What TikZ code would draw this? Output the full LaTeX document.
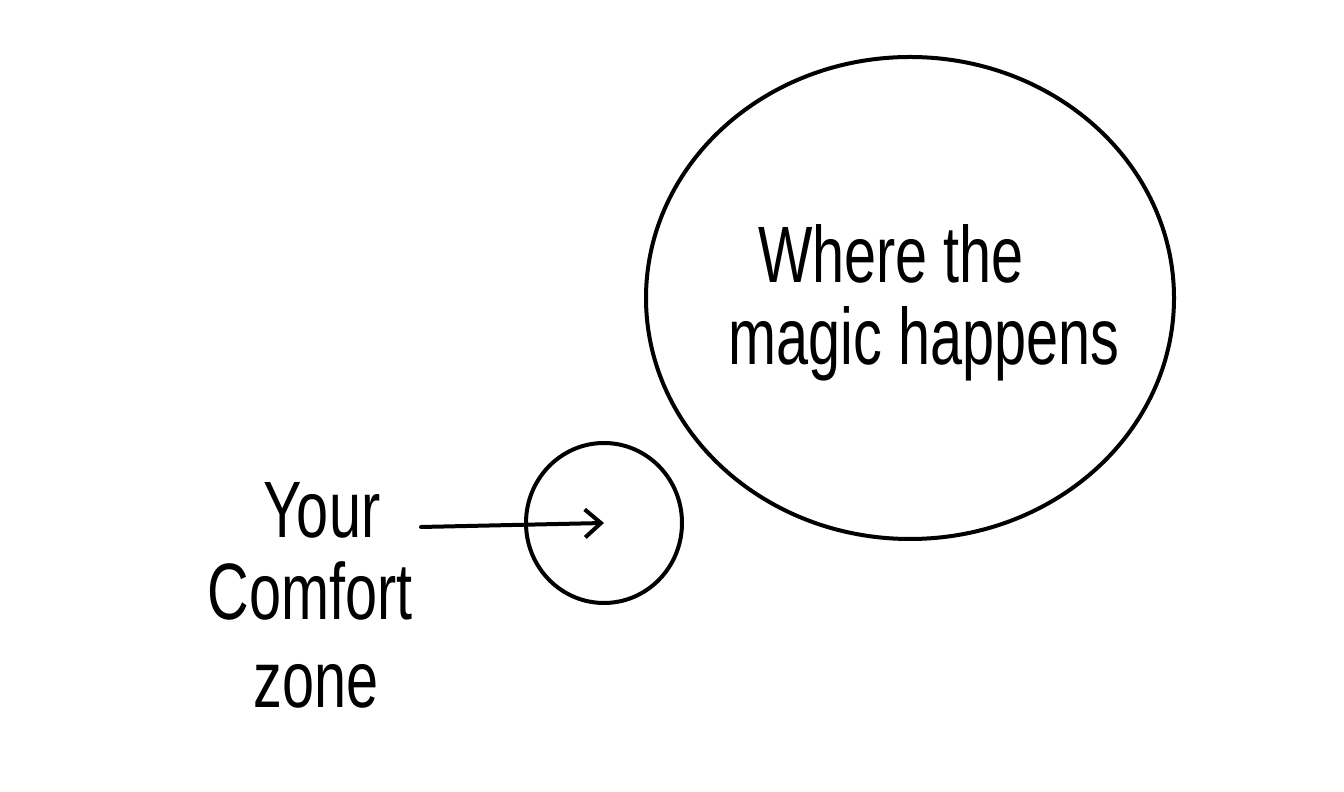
\documentclass[tikz,border=0pt]{standalone}
\usepackage{fontspec}
\setmainfont{Liberation Sans}
\usetikzlibrary{shapes.geometric,arrows.meta}
\begin{document}
\begin{tikzpicture}[x=1pt,y=1pt,
  hand/.style={line width=4pt,line cap=round,line join=round},
  blob/.style={hand,draw,ellipse,inner sep=0pt,outer sep=0pt},
  words/.style={anchor=base,inner sep=0pt,font=\fontsize{80}{84}\selectfont,xscale=0.72,transform shape}]
\useasboundingbox (0,0) rectangle (1344,792);
\fill[white] (0,0) rectangle (1344,792);
\node[blob,minimum width=528pt,minimum height=482pt] (magic) at (910,494) {};
\node[blob,minimum width=156pt,minimum height=160pt] (comfort) at (604,269) {};
\node[words] (w1) at (891,509) {Where the};
\node[words] (w2) at (924,427) {magic happens};
\node[words] (y1) at (322,254) {Your};
\node[words] (y2) at (310,172) {Comfort};
\node[words] (y3) at (316,84) {zone};
\coordinate (start) at (421,265);
\draw[hand,-{Straight Barb[length=16pt,width=28pt,line width=4pt]}] (start) -- (comfort.center);
\end{tikzpicture}
\end{document}
